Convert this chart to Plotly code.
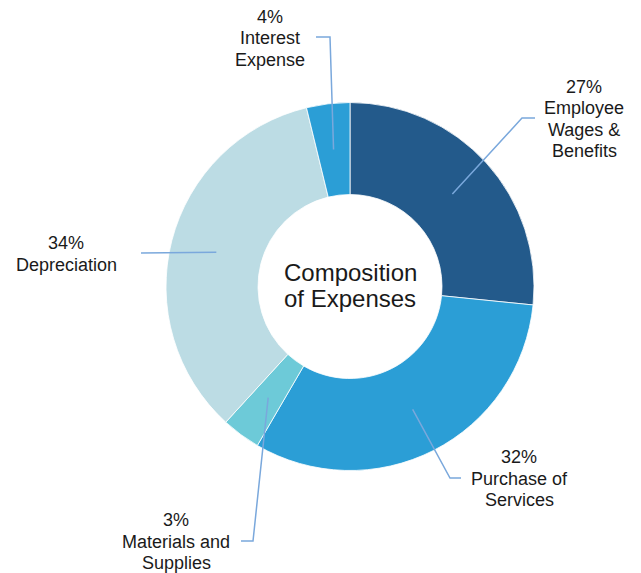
import plotly.graph_objects as go
import math

# Expense categories, clockwise from 12 o'clock
categories = [
    "Employee Wages & Benefits",
    "Purchase of Services",
    "Materials and Supplies",
    "Depreciation",
    "Interest Expense",
]
values = [26.6, 31.8, 3.4, 34.4, 3.8]
label_lines = [
    ["Employee", "Wages &", "Benefits"],
    ["Purchase of", "Services"],
    ["Materials and", "Supplies"],
    ["Depreciation"],
    ["Interest", "Expense"],
]
colors = ["#235A8B", "#2B9ED6", "#6DCAD8", "#BCDCE4", "#2B9ED6"]
center_title = ["Composition", "of Expenses"]

W, H = 641, 573
CX, CY, R = 350, 286.5, 184          # donut centre and outer radius (px)
HOLE = 0.5
LEADER_R = 0.75 * R                   # where leader lines start inside a slice
LEADER_COLOR = "#7AA8DC"
FONT = "Liberation Sans, Arial, sans-serif"

# elbow and end points of each leader line, label centre x and first-line y (px)
leader_layout = [
    dict(elbow=(522, 118), end=(535, 118), tx=584, ty=86.5),
    dict(elbow=(450, 478), end=(461, 478), tx=519, ty=457),
    dict(elbow=(253, 541), end=(241, 541), tx=176, ty=520),
    dict(elbow=(141, 253), end=(141, 253), tx=66, ty=243),
    dict(elbow=(330, 37), end=(316, 37), tx=270, ty=16.5),
]
LINE_STEP = 21.5

fig = go.Figure()

fig.add_trace(go.Pie(
    labels=categories,
    values=values,
    hole=HOLE,
    sort=False,
    direction="clockwise",
    rotation=0,
    marker=dict(colors=colors, line=dict(color="white", width=0.8)),
    textinfo="none",
    hoverinfo="label+percent",
    showlegend=False,
    domain=dict(x=[(CX - R) / W, (CX + R) / W],
                y=[(H - CY - R) / H, (H - CY + R) / H]),
))

# invisible pixel-space axes for leader lines and labels
fig.add_trace(go.Scatter(x=[0, W], y=[0, H], mode="markers",
                         marker=dict(opacity=0), hoverinfo="skip", showlegend=False))

total = sum(values)
cum = 0.0
shapes, annotations = [], []
for val, lines, lay in zip(values, label_lines, leader_layout):
    mid = (cum + val / 2) / total * 2 * math.pi
    cum += val
    sx = CX + LEADER_R * math.sin(mid)
    sy = CY - LEADER_R * math.cos(mid)
    ex, ey = lay["elbow"]
    fx, fy = lay["end"]
    shapes.append(dict(
        type="path", xref="x", yref="y", layer="above",
        path=f"M {sx:.2f},{sy:.2f} L {ex},{ey} L {fx},{fy}",
        line=dict(color=LEADER_COLOR, width=1.5),
    ))
    pct = f"{round(val / total * 100)}%"
    for i, txt in enumerate([pct] + lines):
        annotations.append(dict(
            x=lay["tx"], y=lay["ty"] + i * LINE_STEP, xref="x", yref="y",
            text=txt, showarrow=False, xanchor="center", yanchor="middle",
            font=dict(family=FONT, size=18, color="#1a1a1a"),
        ))

for i, txt in enumerate(center_title):
    annotations.append(dict(
        x=CX, y=272 + i * 26, xref="x", yref="y", text=txt, showarrow=False,
        xanchor="center", yanchor="middle",
        font=dict(family=FONT, size=24, color="#1a1a1a"),
    ))

fig.update_layout(
    width=W, height=H,
    margin=dict(l=0, r=0, t=0, b=0),
    paper_bgcolor="white", plot_bgcolor="white",
    xaxis=dict(range=[0, W], visible=False, domain=[0, 1], fixedrange=True),
    yaxis=dict(range=[H, 0], visible=False, domain=[0, 1], fixedrange=True),
    shapes=shapes,
    annotations=annotations,
    showlegend=False,
)

fig.write_html("out.html")
